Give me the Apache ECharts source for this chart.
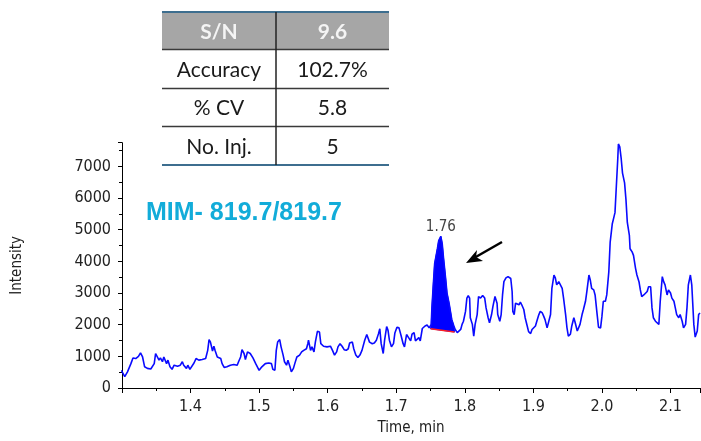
<!DOCTYPE html>
<html>
<head>
<meta charset="utf-8">
<script src="https://cdn.jsdelivr.net/npm/echarts@6/dist/echarts.min.js"></script>
<style>
  html, body { margin: 0; padding: 0; background: #fff; }
  #chart { width: 701px; height: 441px; }
</style>
</head>
<body>
<div id="chart"></div>
<script>
// Retention time (min) of each chromatogram sample
const times = [
  1.299, 1.304, 1.308, 1.313, 1.316, 1.320, 1.324, 1.327, 1.330, 1.333,
  1.337, 1.342, 1.344, 1.347, 1.349, 1.351, 1.354, 1.356, 1.359, 1.361,
  1.365, 1.367, 1.370, 1.373, 1.376, 1.381, 1.385, 1.388, 1.390, 1.394,
  1.396, 1.399, 1.401, 1.405, 1.408, 1.412, 1.417, 1.422, 1.425, 1.427,
  1.429, 1.432, 1.434, 1.436, 1.439, 1.441, 1.444, 1.446, 1.449, 1.453,
  1.458, 1.463, 1.468, 1.470, 1.473, 1.475, 1.478, 1.480, 1.483, 1.485,
  1.487, 1.491, 1.495, 1.500, 1.504, 1.509, 1.514, 1.518, 1.520, 1.523,
  1.525, 1.527, 1.530, 1.532, 1.535, 1.537, 1.540, 1.542, 1.545, 1.547,
  1.550, 1.552, 1.555, 1.559, 1.562, 1.565, 1.569, 1.571, 1.572, 1.575,
  1.577, 1.580, 1.582, 1.585, 1.588, 1.590, 1.594, 1.599, 1.604, 1.607,
  1.610, 1.613, 1.615, 1.618, 1.621, 1.624, 1.627, 1.630, 1.632, 1.636,
  1.638, 1.641, 1.644, 1.647, 1.650, 1.654, 1.657, 1.659, 1.661, 1.665,
  1.668, 1.671, 1.674, 1.676, 1.678, 1.681, 1.683, 1.686, 1.688, 1.690,
  1.693, 1.696, 1.698, 1.701, 1.704, 1.707, 1.710, 1.712, 1.715, 1.718,
  1.721, 1.723, 1.726, 1.728, 1.730, 1.733, 1.735, 1.738, 1.742, 1.745,
  1.748, 1.751, 1.752, 1.754, 1.756, 1.760, 1.762, 1.765, 1.767, 1.769,
  1.772, 1.774, 1.777, 1.779, 1.781, 1.784, 1.786, 1.789, 1.791, 1.794,
  1.796, 1.798, 1.801, 1.803, 1.805, 1.807, 1.808, 1.811, 1.813, 1.815,
  1.818, 1.820, 1.823, 1.826, 1.829, 1.831, 1.834, 1.836, 1.839, 1.841,
  1.844, 1.846, 1.847, 1.848, 1.851, 1.853, 1.855, 1.857, 1.860, 1.863,
  1.865, 1.867, 1.869, 1.870, 1.872, 1.874, 1.876, 1.879, 1.881, 1.883,
  1.886, 1.888, 1.891, 1.893, 1.896, 1.898, 1.900, 1.903, 1.905, 1.908,
  1.910, 1.913, 1.915, 1.917, 1.920, 1.922, 1.925, 1.927, 1.930, 1.932,
  1.934, 1.937, 1.939, 1.942, 1.944, 1.947, 1.949, 1.951, 1.954, 1.956,
  1.959, 1.961, 1.964, 1.966, 1.968, 1.971, 1.973, 1.976, 1.978, 1.981,
  1.983, 1.985, 1.988, 1.990, 1.993, 1.995, 1.998, 2.000, 2.002, 2.005,
  2.007, 2.010, 2.012, 2.015, 2.017, 2.019, 2.021, 2.023, 2.024, 2.026,
  2.028, 2.030, 2.033, 2.035, 2.037, 2.040, 2.041, 2.044, 2.046, 2.049,
  2.051, 2.054, 2.056, 2.058, 2.061, 2.063, 2.066, 2.068, 2.071, 2.073,
  2.075, 2.078, 2.080, 2.083, 2.085, 2.088, 2.090, 2.092, 2.095, 2.097,
  2.100, 2.102, 2.105, 2.107, 2.109, 2.112, 2.114, 2.117, 2.119, 2.122,
  2.124, 2.126, 2.129, 2.131, 2.134, 2.136, 2.139, 2.141, 2.143
];

// Detector intensity (counts) at each retention time
const intensity = [
   560,  360,  510,  770,  950,  930, 1000, 1110,  980,  670,
   620,  600,  620,  770, 1090, 1110,  880,  950,  830,  980,
   770,  880,  670,  590,  720,  690,  720,  830,  720,  620,
   720,  590,  540,  790,  930,  880,  900,  930, 1190, 1530,
  1450, 1170, 1320, 1170,  980, 1040,  930,  770,  650,  670,
   720,  740,  720,  830,  980, 1210, 1090,  900, 1140, 1190,
  1090,  950,  770,  560,  670,  770,  790,  770,  590,  560,
  1190, 1450, 1530, 1300, 1040,  830,  720,  880,  670,  510,
   620,  770,  980, 1040, 1140, 1190, 1240, 1400, 1510, 1190,
  1300, 1140, 1450, 1790, 1770, 1400, 1320, 1300, 1320, 1190,
  1040, 1140, 1300, 1400, 1320, 1210, 1190, 1240, 1420, 1450,
  1240, 1040,  960, 1040, 1190, 1510, 1690, 1630, 1450, 1400,
  1420, 1510, 1710, 1870, 1400, 1090, 1510, 1940, 1820, 1510,
  1300, 1400, 1740, 1920, 1900, 1660, 1400, 1300, 1690, 1590,
  1490, 1700, 1750, 1490, 1440, 1590, 1490, 1880, 1960, 1990,
  1900, 2010, 2530, 3260, 3930, 4400, 4660, 4790, 4560, 4090,
  3460, 3000, 2680, 2420, 2160, 1960, 1850, 1750, 1800, 1850,
  2010, 2110, 2420, 2840, 2920, 2840, 2220, 2010, 1640, 2010,
  2320, 2890, 2840, 2920, 2840, 2530, 2220, 2060, 2320, 2580,
  2890, 2840, 2680, 2320, 2110, 2320, 2940, 3360, 3480, 3520,
  3570, 3460, 3050, 2420, 2320, 2680, 2740, 2630, 2710, 2630,
  2480, 2220, 1960, 1780, 1720, 1850, 1900, 1960, 2110, 2320,
  2420, 2370, 2270, 2160, 1900, 1900, 2320, 3150, 3570, 3480,
  3260, 3360, 3340, 3150, 2840, 2320, 1900, 1640, 1700, 1960,
  2220, 2060, 1800, 1750, 2010, 2320, 2480, 2740, 3050, 3570,
  3410, 3150, 3100, 2940, 2320, 1920, 1900, 2270, 2740, 2740,
  2940, 3670, 4610, 5180, 5360, 5540, 6380, 7210, 7710, 7620,
  7260, 6790, 6480, 5960, 5230, 4820, 4400, 4300, 4190, 3780,
  3570, 3360, 3100, 2890, 2940, 3000, 3050, 3200, 3200, 2530,
  2220, 2110, 2060, 2010, 2740, 3520, 3360, 3260, 2940, 3100,
  3000, 2840, 2740, 2530, 2320, 2220, 2320, 2110, 1900, 2010,
  2530, 3260, 3570, 3260, 2010, 1610, 1800, 2320, 2370
];

// Integration baseline under the 1.76 min peak
const baselineTimes = [1.750, 1.785];
const baselineLevels = [1872, 1768];

// Apex of the integrated peak and its retention-time label
const apexTime = 1.765;
const apexIntensity = 4790;
const apexLabel = '1.76';

// Summary statistics table
const tableLabels = ['S/N', 'Accuracy', '% CV', 'No. Inj.'];
const tableValues = ['9.6', '102.7%', '5.8', '5'];

const transitionName = 'MIM- 819.7/819.7';

const traceData = times.map((t, i) => [t, intensity[i]]);

// Points of the peak between the baseline ends, for the shaded area
const peakPoints = traceData.filter(p => p[0] > baselineTimes[0] && p[0] < baselineTimes[1]);

const axisFont = "'Liberation Sans Narrow', 'DejaVu Sans Condensed', 'Liberation Sans', sans-serif";
const tableFont = "Lato, 'Open Sans', sans-serif";

// Table geometry
const tLeft = 162, tMid = 276, tRight = 389;
const rowEdges = [12, 49.5, 88.5, 126.5, 165];

const tableGraphics = [];
tableGraphics.push({
  type: 'rect', shape: { x: tLeft, y: rowEdges[0], width: tRight - tLeft, height: rowEdges[1] - rowEdges[0] },
  style: { fill: '#a6a6a6' }, silent: true
});
for (let r = 0; r < 4; r++) {
  const cy = (rowEdges[r] + rowEdges[r + 1]) / 2 + 1;
  const header = r === 0;
  [[tableLabels[r], (tLeft + tMid) / 2], [tableValues[r], (tMid + tRight) / 2]].forEach(([txt, cx]) => {
    tableGraphics.push({
      type: 'text', x: cx, y: cy, silent: true,
      style: {
        text: txt, fill: header ? '#f4f4f4' : '#1a1a1a',
        font: (header ? 'bold ' : '') + '21px ' + tableFont,
        textAlign: 'center', textVerticalAlign: 'middle'
      }
    });
  });
}
rowEdges.forEach((y, i) => {
  const outer = i === 0 || i === rowEdges.length - 1;
  tableGraphics.push({
    type: 'line', silent: true,
    shape: { x1: tLeft, y1: y, x2: tRight, y2: y },
    style: { stroke: outer ? '#3d6e8f' : '#3a3a3a', lineWidth: outer ? 2 : 1.5 }
  });
});
tableGraphics.push({
  type: 'line', silent: true,
  shape: { x1: tMid, y1: rowEdges[0], x2: tMid, y2: rowEdges[4] },
  style: { stroke: '#222', lineWidth: 1.5 }
});

const chart = echarts.init(document.getElementById('chart'), null, { renderer: 'canvas' });

chart.setOption({
  animation: false,
  backgroundColor: '#ffffff',
  grid: { left: 122, right: 1, top: 142.7, bottom: 50, containLabel: false },
  xAxis: {
    type: 'value', min: 1.3, max: 2.143, interval: 0.1,
    name: 'Time, min', nameLocation: 'middle', nameGap: 33,
    nameTextStyle: { fontFamily: axisFont, fontSize: 15, color: '#222' },
    axisLine: { lineStyle: { color: '#000', width: 1 } },
    axisTick: { length: 5, lineStyle: { color: '#000' } },
    minorTick: { show: true, splitNumber: 2, length: 3, lineStyle: { color: '#000' } },
    axisLabel: {
      showMinLabel: false, showMaxLabel: false, margin: 11,
      fontFamily: axisFont, fontSize: 16, color: '#222',
      formatter: v => v.toFixed(1)
    },
    splitLine: { show: false }
  },
  yAxis: {
    type: 'value', min: 0, max: 7750, interval: 1000,
    name: 'Intensity', nameLocation: 'middle', nameGap: 97, nameRotate: 90,
    nameTextStyle: { fontFamily: axisFont, fontSize: 15, color: '#222' },
    axisLine: { show: true, lineStyle: { color: '#000', width: 1 } },
    axisTick: { show: true, length: 4, lineStyle: { color: '#000' } },
    minorTick: { show: true, splitNumber: 2, length: 3, lineStyle: { color: '#000' } },
    axisLabel: {
      showMaxLabel: false, margin: 11,
      fontFamily: axisFont, fontSize: 16, color: '#222',
      formatter: v => String(Math.round(v))
    },
    splitLine: { show: false }
  },
  graphic: [
    ...tableGraphics,
    {
      type: 'text', x: 146, y: 213, silent: true,
      style: {
        text: transitionName, fill: '#12acd9',
        font: "bold 25px 'Liberation Sans', Arial, sans-serif",
        textAlign: 'left', textVerticalAlign: 'middle'
      }
    },
    {
      type: 'group', silent: true,
      children: [
        { type: 'line', shape: { x1: 502, y1: 242, x2: 474, y2: 258 }, style: { stroke: '#000', lineWidth: 2.4 } },
        { type: 'polygon', shape: { points: [[466, 263], [477, 250], [476, 257], [483, 261]] }, style: { fill: '#000' } }
      ]
    }
  ],
  series: [
    {
      // Shaded area of the integrated peak, drawn above its baseline
      type: 'custom',
      silent: true,
      z: 1,
      data: [0],
      renderItem: (params, api) => {
        const pts = [[baselineTimes[0], baselineLevels[0]], ...peakPoints,
                     [baselineTimes[1], baselineLevels[1]]].map(p => api.coord(p));
        return {
          type: 'polygon',
          shape: { points: pts },
          style: { fill: '#0000ff', stroke: '#0000ff', lineWidth: 1 }
        };
      }
    },
    {
      type: 'line',
      data: traceData,
      showSymbol: false,
      z: 2,
      lineStyle: { color: '#0a0aff', width: 1.6 },
      markPoint: {
        symbol: 'circle', symbolSize: 0,
        data: [{ coord: [apexTime, apexIntensity], value: apexLabel }],
        label: {
          show: true, position: 'top', distance: 2,
          formatter: apexLabel,
          fontFamily: axisFont, fontSize: 15, color: '#444'
        }
      }
    },
    {
      type: 'line',
      data: baselineTimes.map((t, i) => [t, baselineLevels[i]]),
      showSymbol: false,
      z: 3,
      lineStyle: { color: '#ff2020', width: 1.5 }
    }
  ]
});
</script>
</body>
</html>
